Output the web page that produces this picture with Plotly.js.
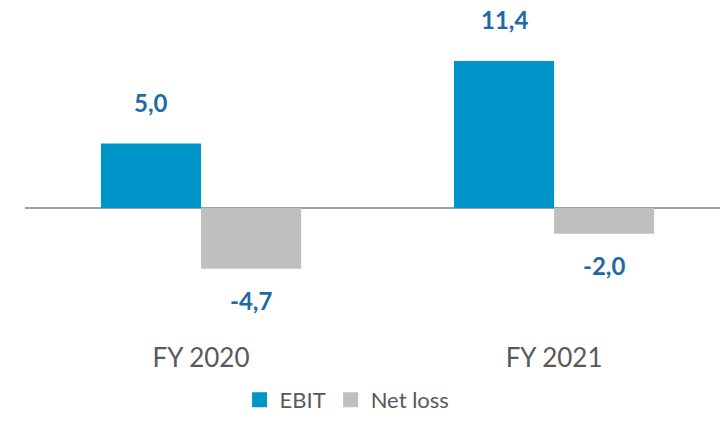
<!DOCTYPE html>
<html><head><meta charset="utf-8">
<script src="https://cdn.plot.ly/plotly-3.0.1.min.js"></script>
<style>body{margin:0;background:#fff}#c{width:720px;height:421px}</style>
</head><body><div id="c"></div>
<script>
const categories = ["FY 2020", "FY 2021"];
const ebit = [5.0, 11.4];
const netLoss = [-4.7, -2.0];
const seriesNames = ["EBIT", "Net loss"];
const seriesColors = ['#0095C8', '#BFBFBF'];

function fmt(v){ return v.toFixed(1).replace('.', ','); }

const traces = [
  {type:'bar', name:seriesNames[0], x:categories, y:ebit, marker:{color:seriesColors[0]}, hoverinfo:'none', showlegend:false},
  {type:'bar', name:seriesNames[1], x:categories, y:netLoss, marker:{color:seriesColors[1]}, hoverinfo:'none', showlegend:false},
  {type:'scatter', mode:'markers', name:seriesNames[0], x:[null], y:[null], marker:{symbol:'square', size:15, color:seriesColors[0]}, showlegend:true},
  {type:'scatter', mode:'markers', name:seriesNames[1], x:[null], y:[null], marker:{symbol:'square', size:15, color:seriesColors[1]}, showlegend:true}
];

const annotations = [];
[ebit, netLoss].forEach((arr, si) => {
  arr.forEach((v, i) => {
    annotations.push({
      x: categories[i], y: v, xref:'x', yref:'y',
      xshift: si === 0 ? -50 : 50,
      yshift: v >= 0 ? 41 : -32,
      text: '<b>' + fmt(v) + '</b>', showarrow:false, yanchor:'middle',
      font:{family:'Lato, sans-serif', size:24, color:'#1F6AA5'}
    });
  });
});

const layout = {
  width:720, height:421,
  margin:{l:25, r:0, t:0, b:81},
  paper_bgcolor:'#fff', plot_bgcolor:'#fff',
  barmode:'group', bargap:0.433, bargroupgap:0,
  showlegend:true,
  legend:{orientation:'h', xref:'container', yref:'container', x:0.482, xanchor:'center', y:0, yanchor:'bottom',
          font:{family:'Lato, sans-serif', size:22, color:'#595959'}, itemwidth:30, traceorder:'normal', tracegroupgap:0,
          bgcolor:'rgba(0,0,0,0)'},
  xaxis:{range:[-0.4986, 1.470], showgrid:false, showline:false, ticks:'', zeroline:false,
         tickfont:{family:'Lato, sans-serif', size:26, color:'#595959'}, fixedrange:true},
  yaxis:{range:[-10.23, 16.12], showgrid:false, zeroline:true, zerolinecolor:'#A0A0A0', zerolinewidth:2,
         showticklabels:false, showline:false, ticks:'', fixedrange:true},
  annotations: annotations
};
Plotly.newPlot('c', traces, layout, {displayModeBar:false, staticPlot:true});
</script></body></html>
